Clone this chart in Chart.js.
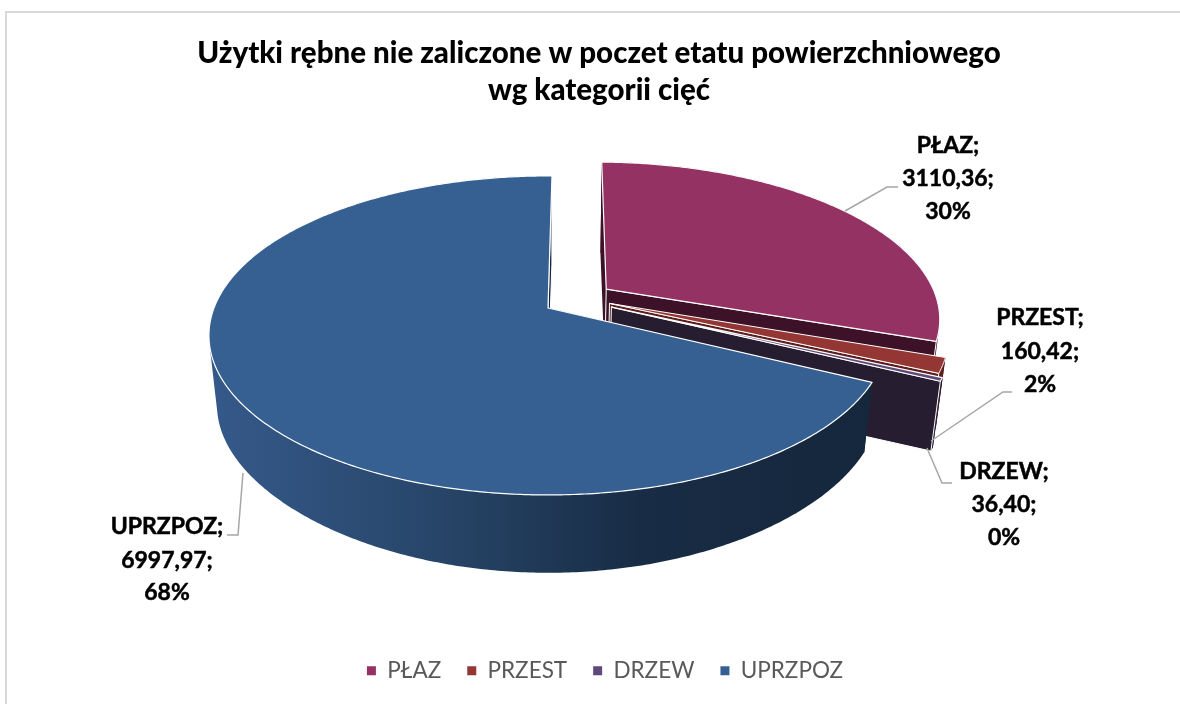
<!DOCTYPE html>
<html><head><meta charset="utf-8">
<style>html,body{margin:0;padding:0;background:#fff;overflow:hidden}#w{position:absolute;left:0;top:0;width:1180px;height:704px;overflow:hidden}</style>
<script src="https://cdn.jsdelivr.net/npm/chart.js@4/dist/chart.umd.min.js"></script>
</head><body><div id="w"><canvas id="c" width="1198" height="704" style="width:1198px;height:704px;display:block"></canvas></div>
<script>
const categories = ['PŁAZ','PRZEST','DRZEW','UPRZPOZ'];
const values = [3110.36,160.42,36.40,6997.97];
const valueLabels = ['3110,36','160,42','36,40','6997,97'];
const percentLabels = ['30%','2%','0%','68%'];
const titleLines = ['Użytki rębne nie zaliczone w poczet etatu powierzchniowego','wg kategorii cięć'];
const topColors = ['#953264','#943634','#5f497a','#366092'];
const wallColors = ['#3d1228','#5c1f1d','#261d31','#17283f'];

// pie projection settings
const P = {cx:548,cy:308,a:334,b:154.8,k:0.172,k2:0.25,b2:144.6,dz:72,s:0.976};
const EXPLODE = [[0.178,0.125],[0.185,0.03],[0.19,0.006],[0,0]];
const EDGE_WIDTHS = [1.2,1,1.2,1.2];
const LABELS = [
 {x:948,ys:[146,179,212],line:[[845,211],[887,187],[898,187]]},
 {x:1040,ys:[318,352,385],line:[[931,441],[1003,392],[1012,392]]},
 {x:1004,ys:[472,505,538],line:[[927,448],[942,483],[952,483]]},
 {x:167,ys:[527,561,593],line:[[243,473],[238,535],[227,535]]}
];
function top3(x,y){const w=1+P.k*y;return [P.cx+P.a*x/w,P.cy-P.b*y/w];}
function bot3(x,y){const w=1+P.k*y,w2=1+P.k2*y;return [P.cx+P.s*P.a*x/w,P.cy+P.dz-P.b2*y/w2];}
function addPoly(ctx,pts){
  let area=0;pts.forEach((p,i)=>{const q=pts[(i+1)%pts.length];area+=p[0]*q[1]-q[0]*p[1];});
  const o=area<0?pts.slice().reverse():pts;
  o.forEach((p,i)=>i?ctx.lineTo(p[0],p[1]):ctx.moveTo(p[0],p[1]));ctx.closePath();
}
function poly(ctx,pts){ctx.beginPath();addPoly(ctx,pts);}
function rim(start,end,off){const n=Math.max(2,Math.ceil((end-start)/0.01));const r=[];for(let i=0;i<=n;i++){const t=start+(end-start)*i/n;r.push([off[0]+Math.sin(t),off[1]+Math.cos(t)]);}return r;}
const pie3d={id:'pie3d',
 afterLayout(chart){const l=chart.legend;l.left+=6;l.right+=6;},
 beforeDatasetDraw(chart){
  const ctx=chart.ctx,arcs=chart.getDatasetMeta(0).data;
  ctx.save();ctx.lineJoin='round';
  arcs.forEach((arc,i)=>{
    const off=EXPLODE[i];
    const s=arc.startAngle+Math.PI/2,e=arc.endAngle+Math.PI/2;
    const d=rim(s,e,off);
    let wall=wallColors[i];
    if(i===3){const g=ctx.createLinearGradient(211,0,869,0);g.addColorStop(0,'#35598a');g.addColorStop(.35,'#274568');g.addColorStop(.65,'#182c45');g.addColorStop(1,'#15273c');wall=g;}
    const c0=top3(off[0],off[1]),c1=bot3(off[0],off[1]);
    const fs=d[0],fe=d[d.length-1];
    ctx.fillStyle=wallColors[i];
    poly(ctx,[c0,top3(fs[0],fs[1]),bot3(fs[0],fs[1]),c1]);ctx.fill();
    // rim wall, one path so there are no seams
    ctx.fillStyle=wall;
    ctx.beginPath();
    for(let j=0;j<d.length-1;j++){
      addPoly(ctx,[top3(d[j][0],d[j][1]),top3(d[j+1][0],d[j+1][1]),bot3(d[j+1][0],d[j+1][1]),bot3(d[j][0],d[j][1])]);
    }
    ctx.fill();
    // end cut face
    ctx.fillStyle=wallColors[i];ctx.strokeStyle='#fff';ctx.lineWidth=1;
    poly(ctx,[c0,top3(fe[0],fe[1]),bot3(fe[0],fe[1]),c1]);ctx.fill();ctx.stroke();
    // top face
    ctx.fillStyle=arc.options.backgroundColor;
    ctx.beginPath();[c0].concat(d.map(p=>top3(p[0],p[1]))).forEach((p,j)=>j?ctx.lineTo(p[0],p[1]):ctx.moveTo(p[0],p[1]));ctx.closePath();ctx.fill();
    ctx.strokeStyle='#fff';ctx.lineWidth=EDGE_WIDTHS[i];ctx.stroke();
  });
  ctx.restore();
  return false;
 },
 afterDraw(chart){
  const ctx=chart.ctx;ctx.save();
  ctx.strokeStyle='#d9d9d9';ctx.lineWidth=2;ctx.strokeRect(6,12,1186,720);
  ctx.strokeStyle='#a6a6a6';ctx.lineWidth=1.5;
  LABELS.forEach(l=>{ctx.beginPath();l.line.forEach((p,i)=>i?ctx.lineTo(p[0],p[1]):ctx.moveTo(p[0],p[1]));ctx.stroke();});
  ctx.fillStyle='#000';ctx.strokeStyle='#000';ctx.lineWidth=0.5;ctx.font='bold 23px Lato';ctx.textAlign='center';ctx.textBaseline='middle';
  LABELS.forEach((l,i)=>{
    [categories[i]+';',valueLabels[i]+';',percentLabels[i]].forEach((t,j)=>{ctx.fillText(t,l.x,l.ys[j]);ctx.strokeText(t,l.x,l.ys[j]);});
  });
  ctx.restore();
 }
};
new Chart(document.getElementById('c'),{
 type:'pie',
 plugins:[pie3d],
 data:{labels:categories,datasets:[{data:values,backgroundColor:topColors,borderWidth:0}]},
 options:{responsive:false,animation:false,rotation:0.8,
  layout:{padding:{top:35,bottom:12,left:0,right:0}},
  plugins:{
   tooltip:{enabled:false},
   title:{display:true,text:titleLines,color:'#000',font:{family:'Lato',size:29.5,weight:'900',lineHeight:1.254},padding:0},
   legend:{position:'bottom',labels:{usePointStyle:true,pointStyle:'rect',pointStyleWidth:9,boxHeight:9,padding:26,color:'#595959',font:{family:'Lato',size:22.5}}}
  }
 }
});
</script></body></html>
